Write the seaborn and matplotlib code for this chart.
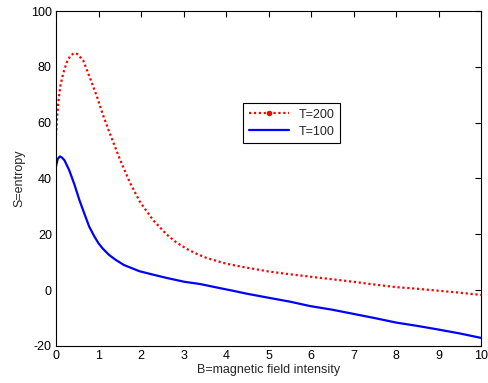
import numpy as np
import pandas as pd
import matplotlib
matplotlib.use("Agg")
import matplotlib.pyplot as plt
import seaborn as sns
from matplotlib.lines import Line2D

# values
b_t200 = [0.0, 0.03, 0.06, 0.1, 0.17, 0.25, 0.33, 0.42, 0.5, 0.64, 0.8, 0.96, 1.1, 1.27,
          1.5, 1.74, 1.98, 2.29, 2.6, 2.84, 3.1, 3.31, 3.55, 4.0, 4.4, 5.0, 5.5,
          6.0, 6.5, 7.0, 7.5, 8.0, 8.5, 9.0, 9.5, 10.0]
s_t200 = [55.5, 63.0, 68.0, 73.0, 77.7, 81.5, 83.8, 84.9, 84.6, 82.3, 76.0, 69.5, 63.0, 56.0,
          47.0, 38.5, 31.5, 25.0, 20.0, 17.0, 14.6, 13.0, 11.5, 9.5, 8.3, 6.7, 5.7,
          4.8, 3.9, 3.0, 2.0, 1.1, 0.5, -0.2, -0.9, -1.7]

b_t100 = [0.0, 0.04, 0.09, 0.14, 0.2, 0.31, 0.43, 0.55, 0.67, 0.78, 0.9, 1.0, 1.1, 1.25, 1.41,
          1.6, 1.96, 2.3, 2.6, 3.02, 3.39, 3.8, 4.16, 4.5, 4.96, 5.5, 5.98,
          6.5, 7.0, 7.5, 8.0, 8.5, 8.96, 9.5, 10.0]
s_t100 = [44.3, 47.0, 47.9, 47.5, 46.5, 43.0, 38.0, 32.3, 27.3, 22.8, 19.3, 16.8, 14.9, 12.6, 10.8,
          9.0, 6.8, 5.5, 4.4, 3.0, 2.2, 0.9, -0.2, -1.3, -2.6, -4.1, -5.7,
          -7.0, -8.5, -10.0, -11.6, -12.8, -14.0, -15.5, -17.1]

df200 = pd.DataFrame({"B": b_t200, "S": s_t200})
df100 = pd.DataFrame({"B": b_t100, "S": s_t100})

sns.set_style("white")
plt.rcParams["font.family"] = ["Liberation Sans", "DejaVu Sans"]
plt.rcParams["font.size"] = 9
plt.rcParams["axes.unicode_minus"] = False

fig = plt.figure(figsize=(4.88, 3.83), dpi=100)
ax = fig.add_axes([56 / 488, 37 / 383, 425 / 488, 335 / 383])

sns.lineplot(data=df200, x="B", y="S", ax=ax, color="red", linestyle=(0, (1, 1.2)),
             linewidth=1.6, estimator=None, sort=False)
sns.lineplot(data=df100, x="B", y="S", ax=ax, color="blue", linestyle="-",
             linewidth=1.6, estimator=None, sort=False)

ax.set_xlim(0, 10)
ax.set_ylim(-20, 100)
ax.set_xticks(range(0, 11))
ax.set_yticks(range(-20, 101, 20))
ax.set_xlabel("B=magnetic field intensity", labelpad=1)
ax.set_ylabel("S=entropy", labelpad=4)
ax.tick_params(direction="in", top=True, right=True, length=4, width=0.8,
               labelsize=9, colors="black", pad=3)
for sp in ax.spines.values():
    sp.set_color("black")
    sp.set_linewidth(0.8)

handles = [Line2D([], [], color="red", linestyle=(0, (1, 1.2)), linewidth=1.6,
                  marker=".", markersize=6),
           Line2D([], [], color="blue", linestyle="-", linewidth=1.6)]
leg = ax.legend(handles, ["T=200", "T=100"], loc="upper left",
                bbox_to_anchor=((237 - 56) / 425, (346 - 97) / 335),
                frameon=True, fancybox=False, framealpha=1, edgecolor="black",
                fontsize=9, handlelength=3.2, borderpad=0.45, labelspacing=0.4,
                numpoints=1)
leg.get_frame().set_linewidth(0.8)

fig.savefig("out.png", dpi=100)
